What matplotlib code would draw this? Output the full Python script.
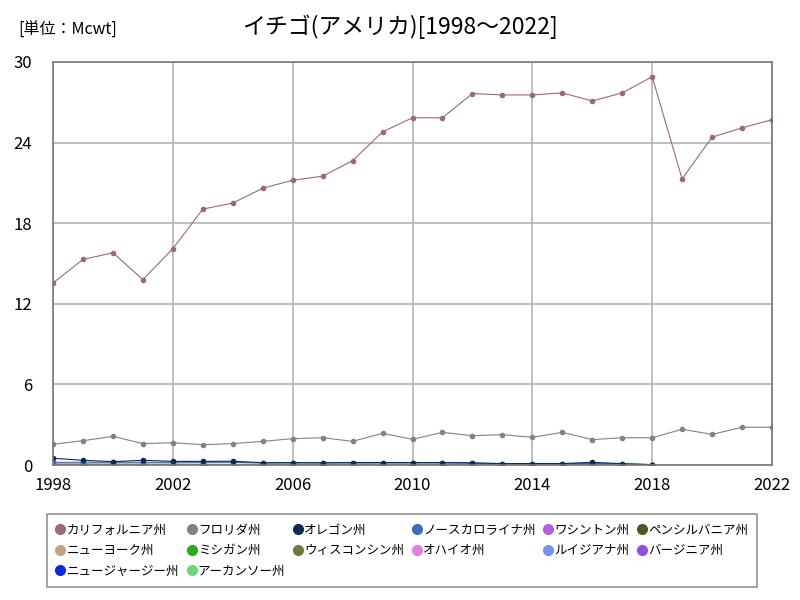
import matplotlib
matplotlib.use("Agg")
import matplotlib.pyplot as plt
import numpy as np

plt.rcParams["font.family"] = ["Noto Sans CJK JP", "DejaVu Sans"]

years = list(range(1998, 2023))

california = [13.55, 15.3, 15.8, 13.8, 16.1, 19.05, 19.5, 20.6, 21.2, 21.5,
              22.65, 24.8, 25.85, 25.85, 27.65, 27.55, 27.55, 27.7, 27.1, 27.7,
              28.9, 21.3, 24.4, 25.1, 25.7]
florida = [1.54, 1.81, 2.13, 1.59, 1.66, 1.51, 1.59, 1.76, 1.96, 2.03,
           1.76, 2.36, 1.91, 2.43, 2.18, 2.26, 2.06, 2.43, 1.89, 2.03,
           2.03, 2.66, 2.28, 2.81, 2.81]
nan = np.nan
tail = [nan, nan, nan, nan]
oregon = [0.5, 0.35, 0.25, 0.35, 0.27, 0.27, 0.28, 0.17, 0.18, 0.17,
          0.18, 0.18, 0.18, 0.18, 0.17, 0.1, 0.11, 0.11, 0.2, 0.1, 0.03] + tail
north_carolina = [0.2, 0.2, 0.2, 0.2, 0.2, 0.2, 0.2, 0.15, 0.15, 0.15,
                  0.15, 0.15, 0.15, 0.15, 0.12, 0.1, 0.1, 0.1, 0.12, 0.08, 0.03] + tail
washington = [0.05, 0.05, 0.05, 0.05, 0.04, 0.04, 0.04, 0.04, 0.04, 0.04,
              0.04, 0.04, 0.04, 0.04, 0.04, 0.03, 0.03, 0.03, 0.03, 0.03, 0.02] + tail
pennsylvania = [0.04, 0.04, 0.04, 0.04, 0.04, 0.04, 0.03, 0.03, 0.03, 0.03,
                0.03, 0.03, 0.03, 0.03, 0.03, 0.03, 0.03, 0.03, 0.03, 0.03, 0.02] + tail
new_york = [0.05, 0.05, 0.05, 0.05, 0.05, 0.04, 0.04, 0.04, 0.04, 0.04,
            0.04, 0.04, 0.03, 0.03, 0.03, 0.03, 0.03, 0.03, 0.03, 0.03, 0.02] + tail
michigan = [0.05, 0.05, 0.04, 0.04, 0.04, 0.04, 0.04, 0.04, 0.04, 0.03,
            0.03, 0.03, 0.03, 0.03, 0.03, 0.03, 0.03, 0.03, 0.03, 0.02, 0.02] + tail
wisconsin = [0.04, 0.04, 0.04, 0.04, 0.04, 0.03, 0.03, 0.03, 0.03, 0.03,
             0.03, 0.03, 0.03, 0.03, 0.03, 0.03, 0.02, 0.02, 0.02, 0.02, 0.02] + tail
ohio = [0.04, 0.04, 0.04, 0.03, 0.03, 0.03, 0.03, 0.03, 0.03, 0.03,
        0.03, 0.03, 0.03, 0.03, 0.02, 0.02, 0.02, 0.02, 0.02, 0.02, 0.02] + tail
louisiana = [0.03, 0.03, 0.03, 0.03, 0.03, 0.03, 0.03, 0.03, 0.02, 0.02,
             0.02, 0.02, 0.02, 0.02, 0.02, 0.02, 0.02, 0.02, 0.02, 0.02, 0.01] + tail
virginia = [0.02, 0.02, 0.02, 0.02, 0.02, 0.02, 0.02, 0.02, 0.02, 0.02,
            0.02, 0.02, 0.02, 0.02, 0.02, 0.02, 0.02, 0.02, 0.02, 0.01, 0.01] + tail
new_jersey = [0.03, 0.03, 0.03, 0.03, 0.02, 0.02, 0.02, 0.02, 0.02, 0.02,
              0.02, 0.02, 0.02, 0.02, 0.02, 0.02, 0.02, 0.01, 0.01, 0.01, 0.01] + tail
arkansas = [0.01, 0.01, 0.01, 0.01, 0.01, 0.01, 0.01, 0.01, 0.01, 0.01,
            0.01, 0.01, 0.01, 0.01, 0.01, 0.01, 0.01, 0.01, 0.01, 0.01, 0.01] + tail

series = [
    ("カリフォルニア州", california, "#9a6a78"),
    ("フロリダ州", florida, "#828282"),
    ("オレゴン州", oregon, "#102a50"),
    ("ノースカロライナ州", north_carolina, "#3c6cb4"),
    ("ワシントン州", washington, "#b45ee0"),
    ("ペンシルバニア州", pennsylvania, "#4e5826"),
    ("ニューヨーク州", new_york, "#c4a484"),
    ("ミシガン州", michigan, "#2aa81e"),
    ("ウィスコンシン州", wisconsin, "#6e7840"),
    ("オハイオ州", ohio, "#e47ee0"),
    ("ルイジアナ州", louisiana, "#7094f0"),
    ("バージニア州", virginia, "#9050e0"),
    ("ニュージャージー州", new_jersey, "#0a2ce0"),
    ("アーカンソー州", arkansas, "#70d478"),
]

fig = plt.figure(figsize=(8, 6), dpi=100)
ax = fig.add_axes([53 / 800, 1 - 465 / 600, 719 / 800, 403 / 600])

handles = {}
for name, vals, color in reversed(series):
    line, = ax.plot(years, vals, color=color, linewidth=0.8, marker="o",
                    markersize=3, label=name)
    handles[name] = line

ax.set_xlim(1998, 2022)
ax.set_ylim(0, 30)
ax.set_xticks(range(1998, 2023, 4))
ax.set_yticks(range(0, 31, 6))
ax.grid(color="#b4b4b4", linewidth=1.2)
ax.set_axisbelow(True)
for spine in ax.spines.values():
    spine.set_color("#777777")
    spine.set_linewidth(1.2)
ax.tick_params(length=0, labelsize=12)
ax.tick_params(axis="y", pad=15)
ax.tick_params(axis="x", pad=9)

fig.text(0.5, 1 - 27 / 600, "イチゴ(アメリカ)[1998～2022]", ha="center",
         va="center", fontsize=16.5)
fig.text(18 / 800, 1 - 30 / 600, "[単位：Mcwt]", ha="left", va="center",
         fontsize=11.5)

# legend fills column by column (3,3,2,2,2,2); reorder so it reads row-wise
order = [0, 6, 12, 1, 7, 13, 2, 8, 3, 9, 4, 10, 5, 11]
names = [series[i][0] for i in order]
leg = fig.legend([handles[n] for n in names], names, loc="upper left",
                 bbox_to_anchor=(41 / 800, 1 - 508 / 600), ncol=6,
                 fontsize=9, frameon=True, fancybox=False,
                 handlelength=0.6, handletextpad=0.2, columnspacing=0.7,
                 borderpad=0.75, labelspacing=0.6)
for h in leg.legend_handles:
    h.set_linestyle("none")
    h.set_markersize(7)
leg.get_frame().set_edgecolor("#777777")
leg.get_frame().set_linewidth(1.2)

fig.savefig("out.png", dpi=100)
